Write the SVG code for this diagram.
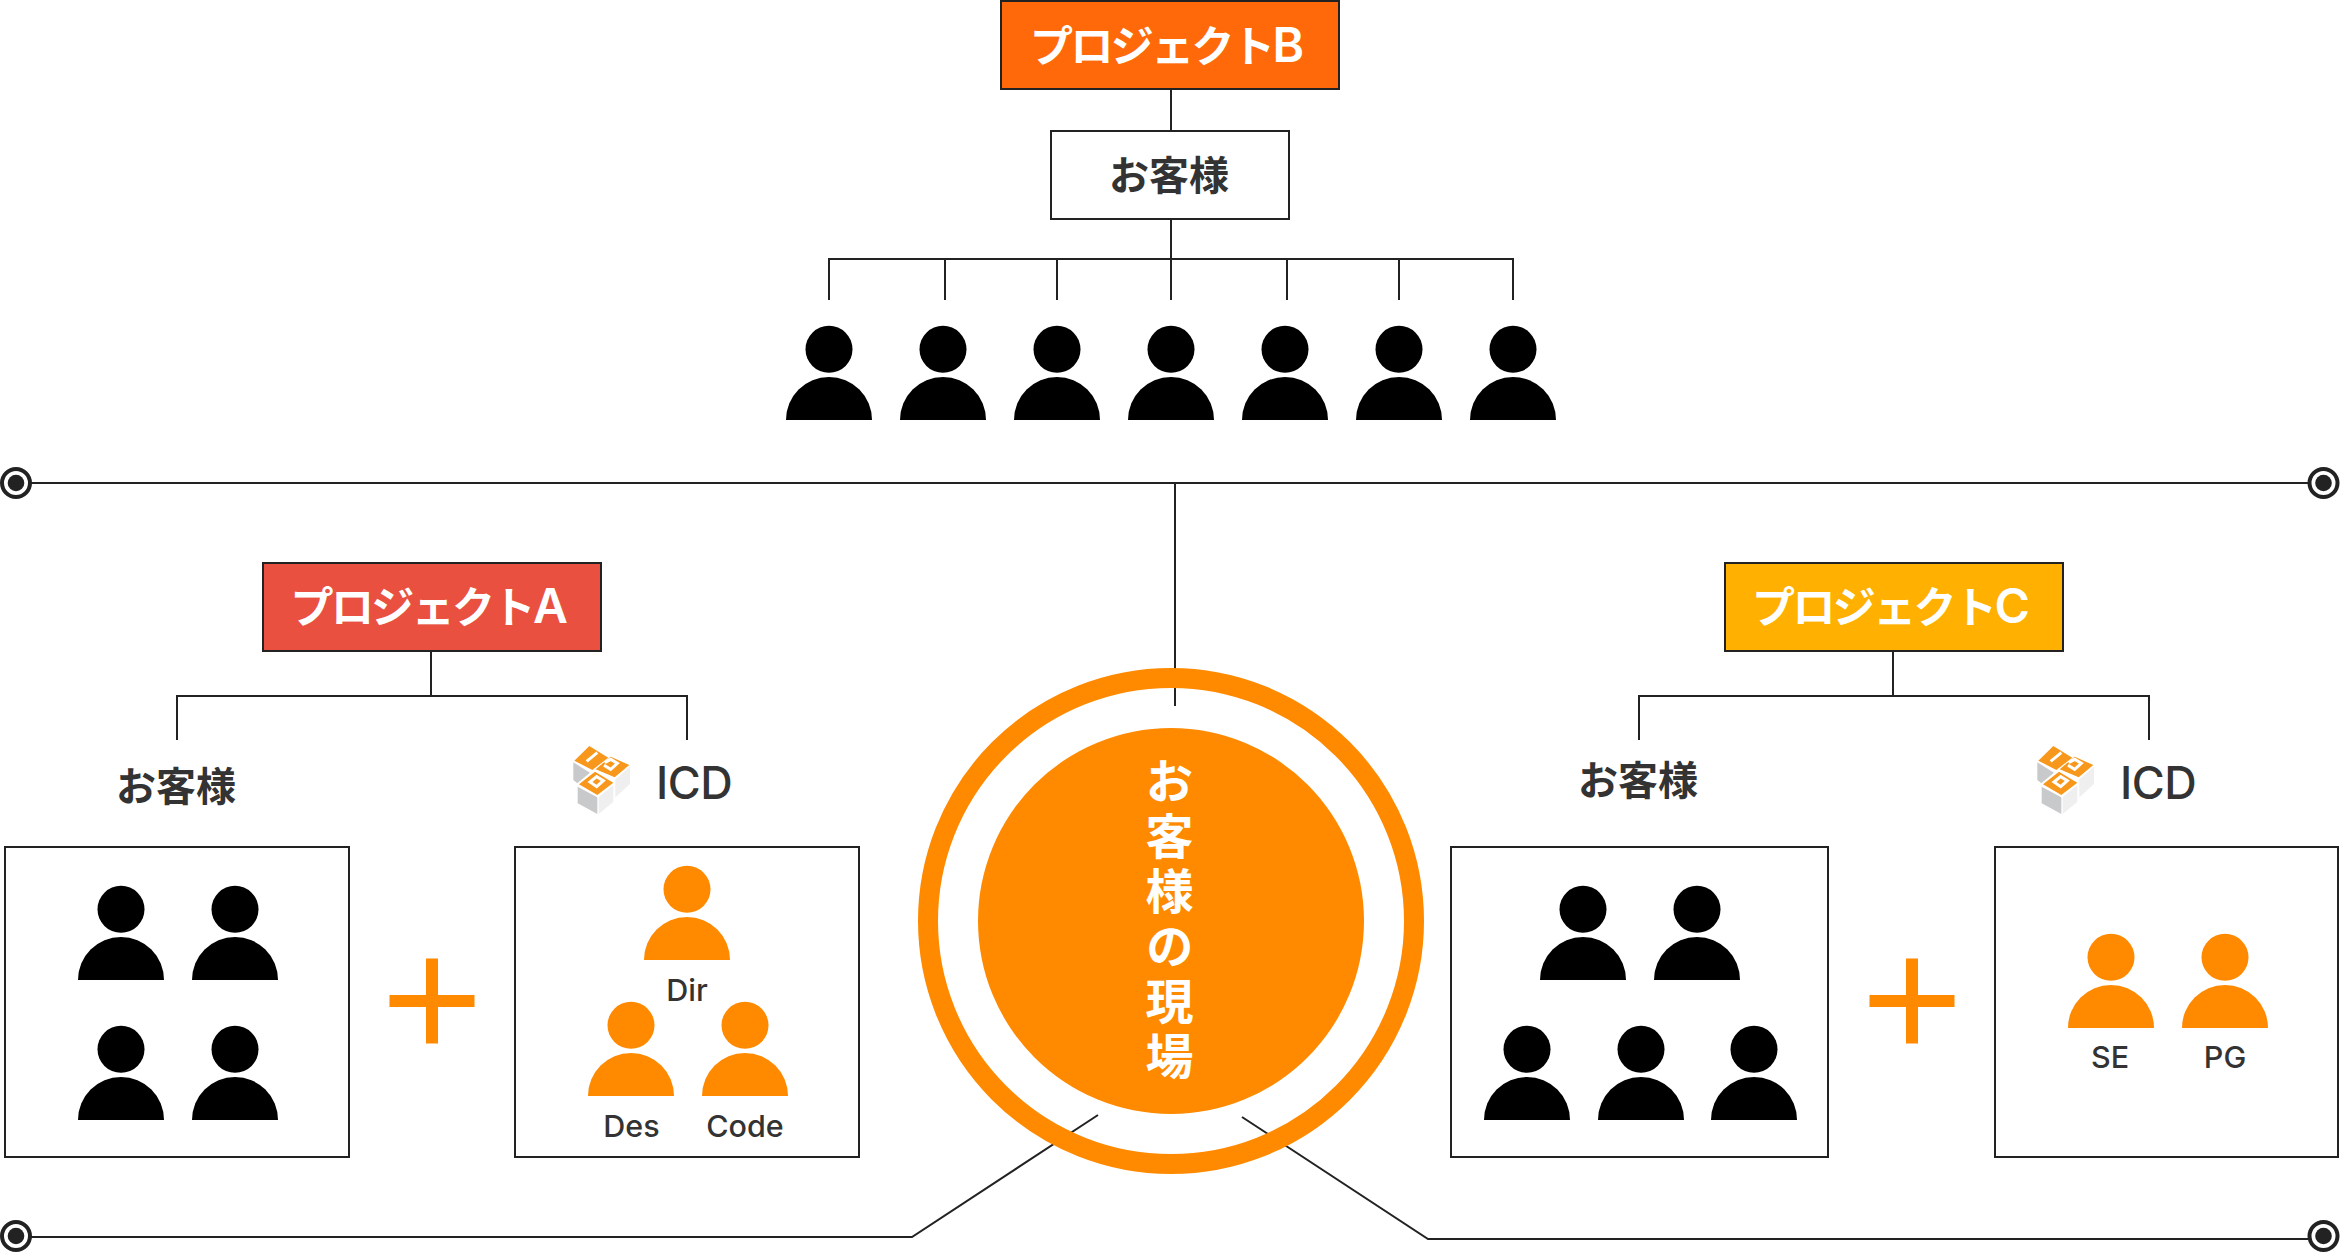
<svg xmlns="http://www.w3.org/2000/svg" width="2340" height="1252" viewBox="0 0 2340 1252">
<style>
text{font-family:Inter,"Liberation Sans","Noto Sans CJK JP",sans-serif}
.jp{font-family:"Noto Sans CJK JP",sans-serif;font-weight:700}
.ttl{fill:#fff;font-size:43px}
.kana{font-family:"Noto Sans CJK JP",sans-serif;font-weight:700;letter-spacing:-2.6px}
.lat{font-family:Inter,sans-serif;font-weight:600;font-size:48px}
.cu{font-size:40px;fill:#333;text-anchor:middle}
.icd{font-size:45px;fill:#333;font-weight:500;letter-spacing:-.5px}
.rl{font-size:30.500px;fill:#333;text-anchor:middle;font-weight:500}
.box{fill:#fff;stroke:#222;stroke-width:2}
.ln{fill:none;stroke:#222;stroke-width:2}
.k{fill:#000}.o{fill:#ff8a00}
</style>
<defs>
<g id="p"><circle cx="0" cy="-70.7" r="23.5"/><path d="M-43 0A43 43 0 0 1 43 0Z"/></g>
<g id="dot"><circle r="14" fill="#fff" stroke="#222" stroke-width="4"/><circle r="8.3" fill="#222"/></g>
<g id="plus"><rect x="-42.5" y="-6" width="85" height="12"/><rect x="-6" y="-42.5" width="12" height="85"/></g>
<g id="logo" transform="scale(.3333)">
<path fill="#c8c9cb" d="M100 127L150 158L112 190L100 180ZM113 200L172 232V282L113 250Z"/>
<path fill="#efefef" d="M176 232L220 195V245L176 282ZM226 178L270 140V192L226 232Z"/>
<path fill="#f7981d" d="M148 78L205 113L157 150L103 122ZM212 110L268 135L224 172L167 148ZM165 155L220 188L172 225L117 193Z"/>
<path fill="none" stroke="#fff" stroke-width="9" d="M172 98L140 124M194 128L212 118L232 130L212 148L192 136M150 186L170 170L190 182L170 200Z"/>
</g>
</defs>
<g id="connectors">
<path class="ln" d="M1171 89V131M1171 219V259M829 300V259H1513V300M945 259V300M1057 259V300M1171 259V300M1287 259V300M1399 259V300"/>
<path class="ln" d="M31 483H2309M1175 483V706"/>
<path class="ln" d="M431 651V696M177 740V696H687V740"/>
<path class="ln" d="M1893 651V696M1639 740V696H2149V740"/>
<path class="ln" d="M31 1237H912L1098 1115M1242 1117L1428 1239H2309"/>
<use href="#dot" x="16" y="483"/><use href="#dot" x="2323.500" y="483"/><use href="#dot" x="16" y="1236"/><use href="#dot" x="2323.500" y="1236"/>
</g>
<g id="project-b"><rect x="1001" y="1" width="338" height="88" fill="#ff690a" stroke="#222" stroke-width="2"/><text class="ttl" x="1030" y="62"><tspan class="kana">プロジェクト</tspan><tspan class="lat">B</tspan></text></g>
<g id="client-b"><rect class="box" x="1051" y="131" width="238" height="88"/><text class="cu jp" x="1169" y="190">お客様</text></g>
<g id="people-b" class="k"><use href="#p" x="829" y="420"/><use href="#p" x="943" y="420"/><use href="#p" x="1057" y="420"/><use href="#p" x="1171" y="420"/><use href="#p" x="1285" y="420"/><use href="#p" x="1399" y="420"/><use href="#p" x="1513" y="420"/></g>
<g id="project-a"><rect x="263" y="563" width="338" height="88" fill="#e9503f" stroke="#222" stroke-width="2"/><text class="ttl" x="290.500" y="623"><tspan class="kana">プロジェクト</tspan><tspan class="lat">A</tspan></text></g>
<g id="project-c"><rect x="1725" y="563" width="338" height="88" fill="#ffb000" stroke="#222" stroke-width="2"/><text class="ttl" x="1752" y="623"><tspan class="kana">プロジェクト</tspan><tspan class="lat">C</tspan></text></g>
<g id="client-a"><text class="cu jp" x="176" y="801">お客様</text><rect class="box" x="5" y="847" width="344" height="310"/>
<g class="k"><use href="#p" x="121" y="980"/><use href="#p" x="235" y="980"/><use href="#p" x="121" y="1120"/><use href="#p" x="235" y="1120"/></g></g>
<g id="plus-a" class="o"><use href="#plus" x="432" y="1001"/></g>
<g id="icd-a"><use href="#logo" x="540" y="720"/><text class="icd" x="656" y="799">ICD</text><rect class="box" x="515" y="847" width="344" height="310"/>
<g class="o"><use href="#p" x="687" y="960"/><use href="#p" x="631" y="1096"/><use href="#p" x="745" y="1096"/></g>
<text class="rl" x="687" y="1001">Dir</text><text class="rl" x="631.500" y="1137">Des</text><text class="rl" x="745" y="1137">Code</text></g>
<g id="client-c"><text class="cu jp" x="1638" y="795">お客様</text><rect class="box" x="1451" y="847" width="377" height="310"/>
<g class="k"><use href="#p" x="1583" y="980"/><use href="#p" x="1697" y="980"/><use href="#p" x="1527" y="1120"/><use href="#p" x="1641" y="1120"/><use href="#p" x="1754" y="1120"/></g></g>
<g id="plus-c" class="o"><use href="#plus" x="1912" y="1001"/></g>
<g id="icd-c"><use href="#logo" x="2004" y="720"/><text class="icd" x="2120" y="799">ICD</text><rect class="box" x="1995" y="847" width="343" height="310"/>
<g class="o"><use href="#p" x="2111" y="1028"/><use href="#p" x="2225" y="1028"/></g>
<text class="rl" x="2110" y="1068">SE</text><text class="rl" x="2225" y="1068">PG</text></g>
<g id="site"><circle cx="1171" cy="921" r="243" fill="none" stroke="#ff8a00" stroke-width="20"/><circle class="o" cx="1171" cy="921" r="193"/>
<text x="1169.500" y="757" font-size="48" fill="#fff" style="font-family:'Noto Sans CJK JP',sans-serif;font-weight:700;writing-mode:vertical-rl;letter-spacing:7px">お客様の現場</text></g>
</svg>
